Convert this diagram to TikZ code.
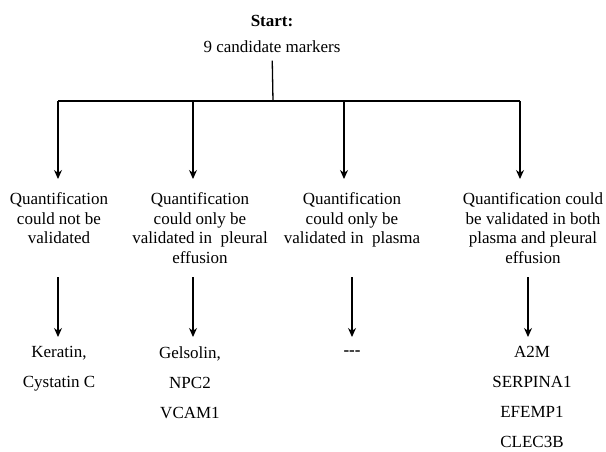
\documentclass[tikz,border=0pt]{standalone}
\usepackage{fontspec}
\setmainfont{Liberation Serif}
\usetikzlibrary{arrows.meta}

\begin{document}
\begin{tikzpicture}[x=1pt,y=-1pt,node distance=26pt,>={Stealth[length=9pt,width=8pt]},line width=1.3pt]

	\tikzstyle{every node}=[font=\fontsize{17}{19.5}\selectfont,inner sep=0pt]
	\tikzstyle{branch}=[align=center,anchor=north]
	\tikzstyle{result}=[align=center,anchor=north,font=\fontsize{17}{29.8}\selectfont]
	\tikzstyle{heading}=[font=\bfseries\fontsize{17}{19.5}\selectfont]

	\useasboundingbox (0,0) rectangle (606,452);

	\node [heading] (start) at (272,21) {Start:};
	\node (cand) [below of=start] {9 candidate markers};

	\coordinate (hub) at (273,101);
	\coordinate (f1) at (58,101);
	\coordinate (f2) at (193,101);
	\coordinate (f3) at (344,101);
	\coordinate (f4) at (520,101);
	\coordinate (t1) at (58,179);
	\coordinate (t2) at (193,179);
	\coordinate (t3) at (344,179);
	\coordinate (t4) at (520,179);

	\draw [shorten <=7pt] (cand) -- (hub);
	\draw (f1) -- (f4);
	\draw [->] (f1) -- (t1);
	\draw [->] (f2) -- (t2);
	\draw [->] (f3) -- (t3);
	\draw [->] (f4) -- (t4);

	\node [branch] (q1) at (59,192) {Quantification\\could not be\\validated};
	\node [branch] (q2) at (200,192) {Quantification\\could only be\\validated in\ \ pleural\\effusion};
	\node [branch] (q3) at (352,192) {Quantification\\could only be\\validated in\ \ plasma};
	\node [branch] (q4) at (533,192) {Quantification could\\be validated in both\\plasma and pleural\\effusion};

	\coordinate (u1) at (58,277);
	\coordinate (u2) at (193,277);
	\coordinate (u3) at (352,277);
	\coordinate (u4) at (528,277);
	\coordinate (v1) at (58,337);
	\coordinate (v2) at (193,337);
	\coordinate (v3) at (352,337);
	\coordinate (v4) at (528,337);

	\draw [->] (u1) -- (v1);
	\draw [->] (u2) -- (v2);
	\draw [->] (u3) -- (v3);
	\draw [->] (u4) -- (v4);

	\node [result] (r1) at (59,346) {Keratin,\\Cystatin C};
	\node [result] (r2) at (190,346) {Gelsolin,\\NPC2\\VCAM1};
	\node [heading] (r3) at (352,353) {-{}-{}-};
	\node [result] (r4) at (532,346) {A2M\\SERPINA1\\EFEMP1\\CLEC3B};

\end{tikzpicture}
\end{document}
